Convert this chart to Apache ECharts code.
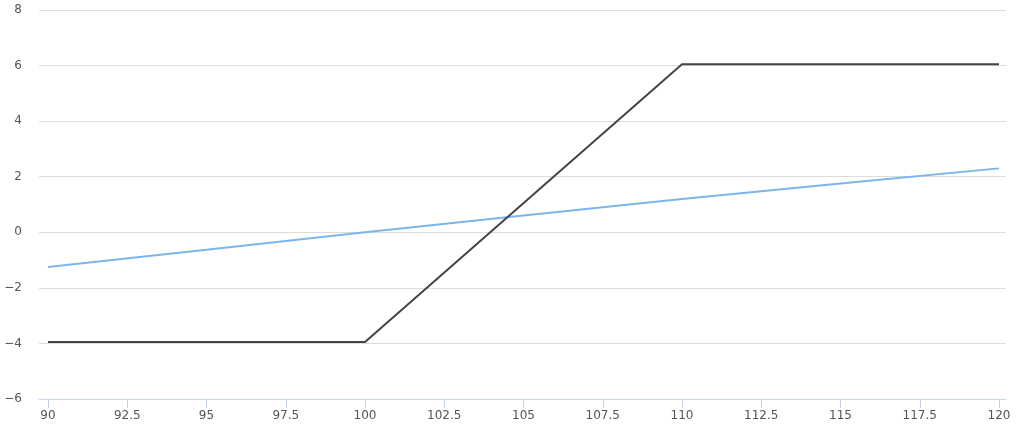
<!DOCTYPE html>
<html>
<head>
<meta charset="utf-8">
<script src="https://cdn.jsdelivr.net/npm/echarts@6/dist/echarts.min.js"></script>
<style>
html,body{margin:0;padding:0;background:#fff;}
#chart{width:1024px;height:433px;}
</style>
</head>
<body>
<div id="chart"></div>
<script>
const payoffX = [90, 100, 110, 120];
const payoffY = [-3.95, -3.95, 6.05, 6.05];
const deltaX = [90, 95, 100, 105, 110, 115, 120];
const deltaY = [-1.25, -0.63, 0, 0.6, 1.2, 1.76, 2.3];
const yTicks = [-6, -4, -2, 0, 2, 4, 6, 8];
const xTicks = [90, 92.5, 95, 97.5, 100, 102.5, 105, 107.5, 110, 112.5, 115, 117.5, 120];

const font = 'DejaVu Sans';
const chart = echarts.init(document.getElementById('chart'), null, {renderer: 'canvas'});
chart.setOption({
  animation: false,
  grid: [
    {left: 39, right: 18, top: 10, bottom: 34},
    {left: 48, right: 25, top: 10, bottom: 34}
  ],
  xAxis: [
    {gridIndex: 0, type: 'value', min: 0, max: 1, show: true, z: 10,
     axisLine: {show: true, onZero: false, lineStyle: {color: '#ccd6eb', width: 1}},
     axisTick: {show: false}, axisLabel: {show: false}, splitLine: {show: false}},
    {gridIndex: 1, type: 'value', position: 'bottom', min: xTicks[0], max: xTicks[xTicks.length - 1], interval: 2.5, z: 10,
     axisLine: {show: false, onZero: false},
     axisTick: {show: true, inside: false, length: 9, lineStyle: {color: '#c4d0e6', width: 1}},
     axisLabel: {color: '#555', fontFamily: font, fontSize: 12, margin: 11},
     splitLine: {show: false}}
  ],
  yAxis: [
    {gridIndex: 0, type: 'value', min: yTicks[0], max: yTicks[yTicks.length - 1], interval: 2,
     axisLine: {show: false}, axisTick: {show: false},
     axisLabel: {color: '#555', fontFamily: font, fontSize: 12, margin: 17,
       formatter: v => String(v).replace('-', '\u2212')},
     splitLine: {show: true, lineStyle: {color: '#dcdcdc', width: 1}}},
    {gridIndex: 1, type: 'value', min: yTicks[0], max: yTicks[yTicks.length - 1], interval: 2,
     show: false, splitLine: {show: false}}
  ],
  series: [
    {type: 'line', xAxisIndex: 1, yAxisIndex: 1, symbol: 'none',
     data: deltaX.map((x, i) => [x, deltaY[i]]),
     lineStyle: {color: '#7cb5ec', width: 2}, z: 2},
    {type: 'line', xAxisIndex: 1, yAxisIndex: 1, symbol: 'none',
     data: payoffX.map((x, i) => [x, payoffY[i]]),
     lineStyle: {color: '#434348', width: 2}, z: 3}
  ]
});
</script>
</body>
</html>
